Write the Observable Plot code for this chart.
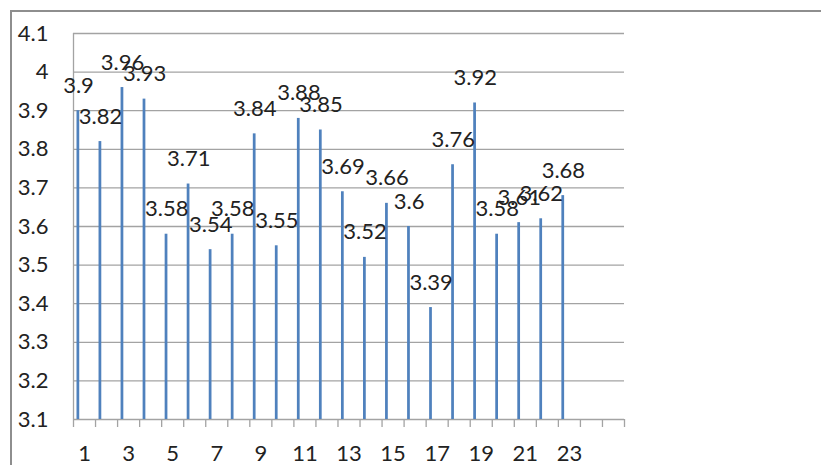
<!DOCTYPE html>
<html>
<head>
<meta charset="utf-8">
<script src="https://cdn.jsdelivr.net/npm/d3@7"></script>
<script src="https://cdn.jsdelivr.net/npm/@observablehq/plot@0.6"></script>
<style>
  html, body { margin: 0; padding: 0; background: #fff; }
  #wrap { position: relative; width: 821px; height: 465px; overflow: hidden; }
  #border { position: absolute; left: 10px; top: 10px; right: -4px; bottom: -4px;
            border-top: 2px solid #8e8e8e; border-left: 2px solid #8e8e8e; pointer-events: none; }
</style>
</head>
<body>
<div id="wrap"><div id="border"></div></div>
<script>
const categories = [1,2,3,4,5,6,7,8,9,10,11,12,13,14,15,16,17,18,19,20,21,22,23];
const values = [3.9,3.82,3.96,3.93,3.58,3.71,3.54,3.58,3.84,3.55,3.88,3.85,3.69,3.52,3.66,3.6,3.39,3.76,3.92,3.58,3.61,3.62,3.68];
const slotCount = 25;
const xTickLabels = [1,3,5,7,9,11,13,15,17,19,21,23];
const yTicks = [3.1,3.2,3.3,3.4,3.5,3.6,3.7,3.8,3.9,4.0,4.1];

const data = categories.map((c, i) => ({cat: c, value: values[i]}));
const boundaries = d3.range(0, slotCount + 1).map(i => i + 0.5);
const fmt = d => String(+d.toFixed(2));

const chart = Plot.plot({
  width: 821,
  height: 465,
  marginLeft: 73,
  marginRight: 197,
  marginTop: 33,
  marginBottom: 46,
  style: {fontFamily: "Lato", fontSize: "22px", color: "#222", background: "transparent"},
  x: {type: "linear", domain: [0.5, slotCount + 0.5]},
  y: {domain: [3.1, 4.1]},
  marks: [
    Plot.gridY(yTicks, {stroke: "#a3a3a3", strokeOpacity: 1, strokeWidth: 1.3}),
    Plot.ruleX([0.5], {stroke: "#a3a3a3", strokeWidth: 1.3}),
    Plot.axisY(yTicks, {tickSize: 0, tickPadding: 25, tickFormat: fmt, fill: "#222", fontSize: 22, label: null}),
    Plot.axisX(boundaries, {tickSize: 8, tickFormat: () => "", stroke: "#a3a3a3", strokeWidth: 1.3, label: null}),
    Plot.axisX(xTickLabels, {tickSize: 0, tickPadding: 26, tickFormat: d => String(d), fill: "#222", fontSize: 22, label: null}),
    Plot.rectY(data, {x1: d => d.cat - 0.5, x2: d => d.cat + 0.5, y1: 3.1, y2: "value",
      insetLeft: 3.5, insetRight: 15.8, fill: "#4f81bd"}),
    Plot.text(data, {x: d => d.cat - 0.5, y: "value", text: d => fmt(d.value),
      dx: 5, dy: -25, fill: "#222", fontSize: 22})
  ]
});
document.getElementById("wrap").prepend(chart);
</script>
</body>
</html>
